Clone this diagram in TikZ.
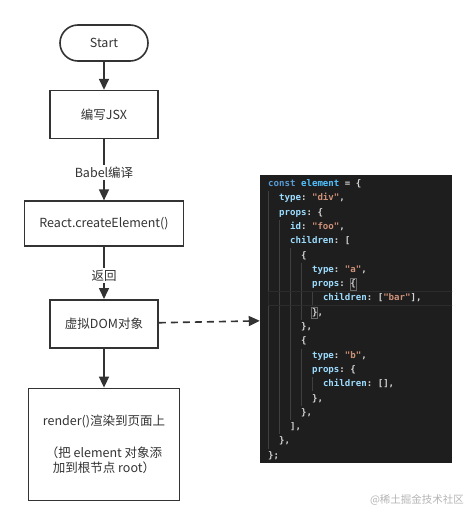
\documentclass[tikz,border=0pt]{standalone}
\usepackage{fontspec}
\setmainfont{Noto Sans CJK SC}
\setmonofont{DejaVu Sans Mono}
\usetikzlibrary{arrows.meta,positioning}

\definecolor{ink}{HTML}{333333}
\definecolor{codebg}{HTML}{1E1E1E}
\definecolor{guide}{HTML}{404040}
\definecolor{matchbox}{HTML}{6A6A6A}
\definecolor{curline}{HTML}{2C2C2C}
\definecolor{kwblue}{HTML}{569CD6}
\definecolor{varblue}{HTML}{4FC1FF}
\definecolor{keyblue}{HTML}{9CDCFE}
\definecolor{strorange}{HTML}{CE9178}
\definecolor{punct}{HTML}{D4D4D4}
\definecolor{markgray}{HTML}{B4B4B4}

\newcommand\kw[1]{\textcolor{kwblue}{#1}}
\newcommand\vr[1]{\textcolor{varblue}{#1}}
\newcommand\ky[1]{\textcolor{keyblue}{#1}}
\newcommand\st[1]{\textcolor{strorange}{#1}}

\begin{document}
\begin{tikzpicture}[x=1pt, y=-1pt,
  >={Triangle[length=11pt,width=10pt]},
  box/.style={draw=ink, line width=1.6pt, minimum width=108pt, minimum height=48pt,
    align=center, text=ink, font=\fontsize{12.5}{15.5}\selectfont},
  lab/.style={fill=white, text=ink, inner sep=1.5pt, font=\fontsize{12.5}{14}\selectfont},
  flow/.style={->, draw=ink, line width=1.6pt},
  codeline/.style={anchor=west, inner sep=0pt, text=punct, text height=7pt, text depth=2pt,
    font=\ttfamily\bfseries\fontsize{9.1}{11}\selectfont}]
  \useasboundingbox (0,0) rectangle (476,519);

  % flow chart
  \node[box, minimum width=88pt, minimum height=36pt, rounded corners=18pt] (start) at (104,43) {Start};
  \node[box, below=28pt of start] (jsx) {编写JSX};
  \node[box, below=61pt of jsx, minimum width=159pt, minimum height=45pt] (react) {React.createElement()};
  \node[box, below=52pt of react] (vdom) {虚拟DOM对象};
  \node[box, below=39pt of vdom, minimum width=151pt, minimum height=112pt] (render)
    {render()渲染到页面上\\[16pt]（把 element 对象添\\加到根节点 root）};

  \draw[flow] (start) -- (jsx);
  \draw[flow] (jsx) -- node[lab, pos=0.54]{Babel编译} (react);
  \draw[flow] (react) -- node[lab, pos=0.55]{返回} (vdom);
  \draw[flow] (vdom) -- (render);

  % code panel
  \node[fill=codebg, inner sep=0pt, minimum width=192pt, minimum height=288pt] (code) at (356,319) {};
  \draw[flow, dash pattern=on 7pt off 5pt] (vdom) -- (code);

  \begin{scope}
    \clip (code.north west) rectangle (code.south east);
    % indent guides
    \foreach \col/\from/\to in {0/1/18, 2/3/17, 4/5/16, 6/6/9, 6/12/15, 8/8/8, 8/14/14}
      \draw[guide, line width=0.6pt] (268.5+5.48*\col, 176.9+14.3*\from) -- (268.5+5.48*\col, 191.2+14.3*\to);
    % current line and bracket match
    \draw[curline, line width=0.5pt] (268,291.2) rectangle (453,305.5);
    \draw[matchbox, line width=0.5pt] (350.2,278.3) rectangle (356.2,290);
    \draw[matchbox, line width=0.5pt] (311.7,306.8) rectangle (317.7,318.5);
    % code text
    \foreach \ind/\txt [count=\i from 0] in {
      0/{\kw{const} \vr{element} = \{},
      2/{\ky{type}: \st{"div"},},
      2/{\ky{props}: \{},
      4/{\ky{id}: \st{"foo"},},
      4/{\ky{children}: [},
      6/{\{},
      8/{\ky{type}: \st{"a"},},
      8/{\ky{props}: \{},
      10/{\ky{children}: [\st{"bar"}],},
      8/{\},},
      6/{\},},
      6/{\{},
      8/{\ky{type}: \st{"b"},},
      8/{\ky{props}: \{},
      10/{\ky{children}: [],},
      8/{\},},
      6/{\},},
      4/{],},
      2/{\},},
      0/{\};},
      0/{```}}
      \node[codeline] (line\i) at (268+5.48*\ind, 184+14.3*\i) {\txt};
  \end{scope}

  \node[text=markgray, font=\fontsize{10.5}{12}\selectfont] (mark) at (417,500) {@稀土掘金技术社区};
\end{tikzpicture}
\end{document}
